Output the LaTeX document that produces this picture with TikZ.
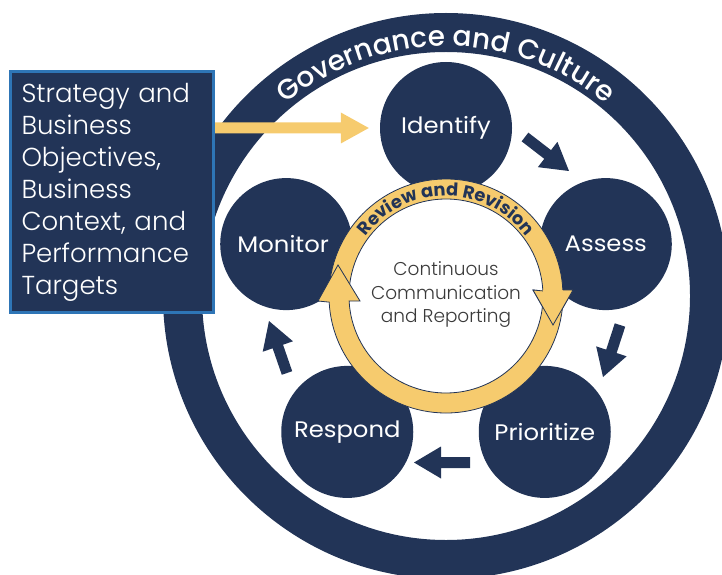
\documentclass[tikz,border=0pt]{standalone}
\usepackage{fontspec}
\setmainfont{Poppins}
\newfontfamily\plight{Poppins Light}
\newfontfamily\preg[FakeStretch=1.08]{Poppins}
\newfontfamily\pmed{Poppins Medium}
\newfontfamily\pbold{Poppins Bold}
\usetikzlibrary{calc,decorations.text}
\definecolor{navy}{HTML}{223457}
\definecolor{gold}{HTML}{F6CB6E}
\definecolor{boxblue}{HTML}{2E75B6}
\definecolor{txtgray}{HTML}{3A3A3A}
% block arrow: colour, start, end, shaft half width, head half width, head length
\newcommand\blockarrow[6]{%
  \fill[#1] ($(#2)!#4!90:(#3)$)
    -- ($(#3)!#6!(#2) + (#2)!#4!90:(#3) - (#2)$)
    -- ($(#3)!#6!(#2) + (#2)!#5!90:(#3) - (#2)$)
    -- (#3)
    -- ($(#3)!#6!(#2) + (#2)!#5!-90:(#3) - (#2)$)
    -- ($(#3)!#6!(#2) + (#2)!#4!-90:(#3) - (#2)$)
    -- ($(#2)!#4!-90:(#3)$) -- cycle;}
\begin{document}
\begin{tikzpicture}[x=1pt,y=1pt,
  stepcirc/.style={circle, fill=navy, minimum size=132pt, inner sep=0pt, text=white, font=\preg\fontsize{22.5}{24}\selectfont},
  ringpart/.style={draw=navy, line width=0.8pt, fill=gold, line join=miter},
  stratbox/.style={draw=boxblue, line width=3pt, fill=navy, minimum width=203pt, minimum height=241pt, inner xsep=11pt, inner ysep=0pt, text width=181pt, align=left, text=white, font=\plight\fontsize{26}{32}\selectfont},
]
\useasboundingbox (0,0) rectangle (722,574);
\clip (0,0) rectangle (722,574);
\coordinate (C) at (446,278);
% outer ring
\fill[navy, even odd rule] (C) circle[radius=283] (C) circle[radius=244];
\path[decorate, decoration={text along path, text align=center, text color=white,
  text={|\pmed\fontsize{28}{28}\selectfont|Governance and Culture}}]
  ($(C)+(160:250)$) arc[start angle=160, end angle=20, radius=250];
% step circles
\node[stepcirc] (identify) at ($(C)+(90:168)$) {Identify};
\node[stepcirc] (assess) at ($(C)+(18:168)$) {Assess};
\node[stepcirc] (prioritize) at ($(C)+(-54:168)$) {Prioritize};
\node[stepcirc] (respond) at ($(C)+(-126:168)$) {Respond};
\node[stepcirc] (monitor) at ($(C)+(162:168)$) {\hspace*{-6pt}Monitor};
% center disc
\fill[white] (C) circle[radius=97];
\node[align=center, text=txtgray, font=\plight\fontsize{18.5}{23.5}\selectfont] (core) at (446,279) {Continuous\\Communication\\and Reporting};
% yellow cycle arrows
\path[ringpart] ($(C)+(175:117)$) arc[start angle=175, end angle=3, radius=117]
  -- (573,284) -- (553,249) -- (533,284) -- ($(C)+(3:97)$)
  arc[start angle=3, end angle=175, radius=97] -- cycle;
\path[ringpart] ($(C)+(-3:117)$) arc[start angle=-3, end angle=-177, radius=117]
  -- (318,273) -- (338,309) -- (360,273) -- ($(C)+(-177:97)$)
  arc[start angle=-177, end angle=-3, radius=97] -- cycle;
\fill[gold] (573,284) -- (553,249) -- (533,284) -- cycle;
\draw[navy, line width=0.8pt, line join=miter] ($(C)+(3:117)$) -- (573,284) -- (553,249) -- (533,284) -- ($(C)+(3:97)$);
\path[decorate, decoration={text along path, text align=center, text color=navy,
  text={|\pbold\fontsize{17.8}{17.8}\selectfont|Review and Revision}}]
  ($(C)+(165:100)$) arc[start angle=165, end angle=15, radius=100];
% navy step arrows
\coordinate (a1s) at (525,437); \coordinate (a1e) at (569,403);
\coordinate (a2s) at (620,249); \coordinate (a2e) at (603,197);
\coordinate (a3s) at (470,111.5); \coordinate (a3e) at (414,111.5);
\coordinate (a4s) at (287,201); \coordinate (a4e) at (269,253);
\blockarrow{navy}{a1s}{a1e}{5.5pt}{16pt}{27pt}
\blockarrow{navy}{a2s}{a2e}{5.5pt}{16pt}{27pt}
\blockarrow{navy}{a3s}{a3e}{5.5pt}{16pt}{27pt}
\blockarrow{navy}{a4s}{a4e}{5.5pt}{16pt}{27pt}
% strategy box
\node[stratbox] (strategy) at (112,382) {Strategy and\\Business\\Objectives,\\Business\\Context, and\\Performance\\Targets};
\coordinate (g1) at (strategy.east |- identify.west);
\coordinate (g2) at ($(identify.west)+(-11,0)$);
\blockarrow{gold}{g1}{g2}{5.5pt}{15.5pt}{28pt}
\end{tikzpicture}
\end{document}
